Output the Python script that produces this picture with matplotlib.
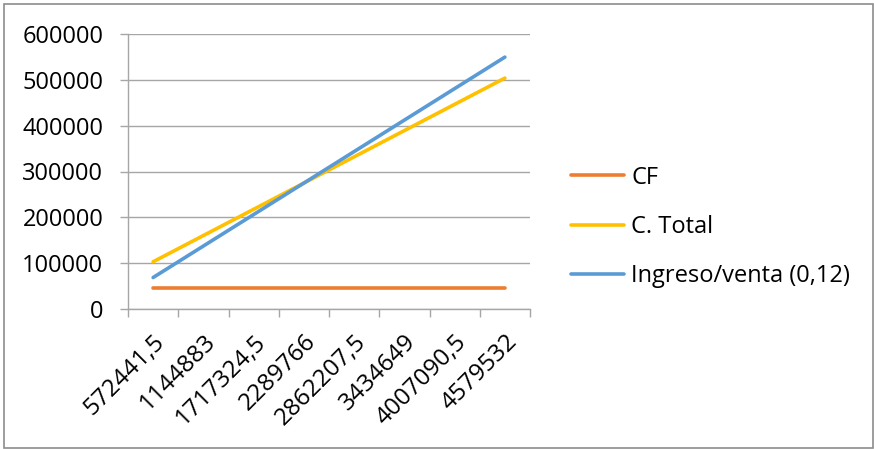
import matplotlib
matplotlib.use("Agg")
import matplotlib.pyplot as plt
from matplotlib.patches import Rectangle

plt.rcParams['font.family'] = ['Open Sans', 'DejaVu Sans']

# Sales volume categories (x axis)
volumen = ["572441,5", "1144883", "1717324,5", "2289766",
           "2862207,5", "3434649", "4007090,5", "4579532"]

# Series values
cf = [45795, 45795, 45795, 45795, 45795, 45795, 45795, 45795]
c_total = [103040, 160284, 217528, 274772, 332016, 389260, 446504, 503749]
ingreso = [68693, 137386, 206079, 274772, 343465, 412158, 480851, 549544]

yticks = [0, 100000, 200000, 300000, 400000, 500000, 600000]

W, H = 874, 449
FS = 17
fig = plt.figure(figsize=(W / 100, H / 100), dpi=100)
ax = fig.add_axes([128 / W, 1 - 309 / H, (530 - 128) / W, (309 - 34) / H])

grid_c = "#A6A6A6"
x = list(range(len(volumen)))
ax.plot(x, cf, color="#ED7D31", lw=2.6, solid_capstyle="round", label="CF", zorder=3)
ax.plot(x, c_total, color="#FFC000", lw=2.6, solid_capstyle="round", label="C. Total", zorder=3)
ax.plot(x, ingreso, color="#5B9BD5", lw=2.6, solid_capstyle="round",
        label="Ingreso/venta (0,12)", zorder=4)

ax.set_xlim(-0.5, len(volumen) - 0.5)
ax.set_ylim(0, 600000)
ax.set_yticks(yticks)
ax.set_yticklabels([str(v) for v in yticks])
ax.yaxis.grid(True, color=grid_c, lw=1)
ax.set_axisbelow(True)

# Tick marks at category boundaries, labels at category centres
ax.set_xticks([i - 0.5 for i in range(len(volumen) + 1)])
ax.set_xticklabels([])
ax.set_xticks(x, minor=True)
ax.set_xticklabels(volumen, minor=True, rotation=45, ha="right",
                   rotation_mode="anchor", fontsize=17.5)
ax.tick_params(axis="x", which="major", length=5.8, color=grid_c, width=1)
ax.tick_params(axis="x", which="minor", length=0, pad=15)
ax.tick_params(axis="y", length=5.8, color=grid_c, width=1, labelsize=FS, pad=12)

for s in ("top", "right"):
    ax.spines[s].set_visible(False)
for s in ("left", "bottom"):
    ax.spines[s].set_color(grid_c)
    ax.spines[s].set_linewidth(1)

leg = fig.legend(loc="center left", bbox_to_anchor=(550 / W, 1 - 227 / H),
                 frameon=False, fontsize=FS, handlelength=2.25,
                 labelspacing=1.08, handletextpad=0.3)

fig.patches.append(Rectangle((4 / W, 1.5 / H), (873 - 4) / W, (445 - 1.5) / H,
                             transform=fig.transFigure, fill=False,
                             edgecolor="#8C8C8C", lw=1.2))

fig.savefig("out.png", dpi=100)
